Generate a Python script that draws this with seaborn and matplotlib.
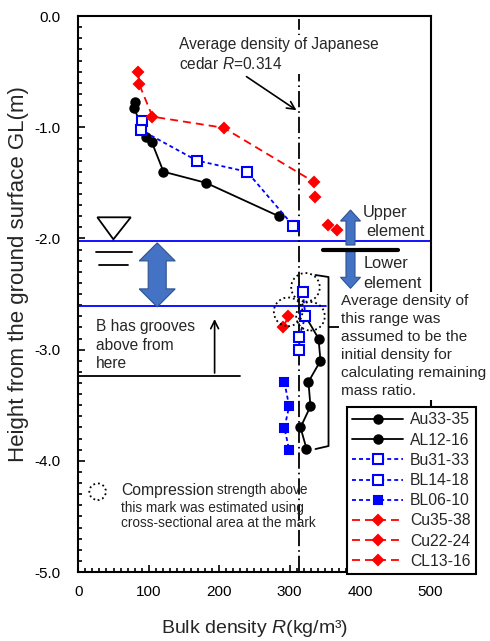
import numpy as np
import matplotlib
matplotlib.use("Agg")
import matplotlib.pyplot as plt
from matplotlib.lines import Line2D
from matplotlib.patches import Polygon, Ellipse
from matplotlib.ticker import MultipleLocator, FormatStrFormatter
import seaborn as sns

# Bulk density R (kg/m3) vs height from the ground surface GL (m)
au33_x = [80.7, 79.2, 96.3, 104.4, 120.9, 181.2, 284.5]
au33_y = [-0.77, -0.83, -1.085, -1.135, -1.40, -1.50, -1.80]
al12_x = [322.5, 341.0, 343.8, 326.7, 329.6, 315.4, 323.9]
al12_y = [-2.70, -2.90, -3.10, -3.29, -3.51, -3.70, -3.89]
bu31_x = [91.0, 88.8, 168.4, 239.5, 305.0]
bu31_y = [-0.94, -1.025, -1.30, -1.40, -1.885]
bl14_x = [318.6, 322.5, 313.5, 314.0]
bl14_y = [-2.485, -2.70, -2.885, -3.00]
bl06_x = [292.6, 299.3, 292.6, 299.3]
bl06_y = [-3.29, -3.51, -3.705, -3.90]
cu35_x = [85.3, 86.3, 105.3, 206.3, 335.3]
cu35_y = [-0.505, -0.61, -0.905, -1.005, -1.495]
cu22_x = [336.7, 354.2, 367.6]
cu22_y = [-1.63, -1.88, -1.92]
cl13_x = [297.9, 291.2]
cl13_y = [-2.70, -2.80]

cedar_R = 314          # average density of Japanese cedar
water_top = -2.023     # blue lines
water_bot = -2.605
groove_y = -3.235

BLACK, BLUE, RED = "black", "#0000FF", "#FF0000"
solid = "-"
bdash = (0, (2.2, 1.7))
rdash = (0, (4.4, 2.8))

series = [
    ("Au33-35", au33_x, au33_y, BLACK, solid, "o", 6, BLACK),
    ("AL12-16", al12_x, al12_y, BLACK, solid, "o", 6, BLACK),
    ("Bu31-33", bu31_x, bu31_y, BLUE, bdash, "s", 6.5, "white"),
    ("BL14-18", bl14_x, bl14_y, BLUE, bdash, "s", 6.5, "white"),
    ("BL06-10", bl06_x, bl06_y, BLUE, bdash, "s", 5.5, BLUE),
    ("Cu35-38", cu35_x, cu35_y, RED, rdash, "D", 5.5, RED),
    ("Cu22-24", cu22_x, cu22_y, RED, rdash, "D", 5.5, RED),
    ("CL13-16", cl13_x, cl13_y, RED, rdash, "D", 5.5, RED),
]
no_line = ["Cu22-24"]   # plotted without connecting line in the original

sns.set_style("ticks")
plt.rcParams["font.family"] = ["Liberation Sans", "DejaVu Sans"]
plt.rcParams["mathtext.fontset"] = "custom"
plt.rcParams["mathtext.rm"] = "Liberation Sans"
plt.rcParams["mathtext.it"] = "Liberation Sans:italic"
plt.rcParams["axes.unicode_minus"] = False

fig = plt.figure(figsize=(4.9, 6.41), dpi=100)
ax_left, ax_bottom, ax_w, ax_h = 0.1598, 0.1076, 0.7188, 0.8674
ax = fig.add_axes([ax_left, ax_bottom, ax_w, ax_h])
ax.set_xlim(0, 500)
ax.set_ylim(-5, 0)

# data units per pixel, for shapes sized in pixels
sx = 500 / (ax_w * 490)
sy = 5 / (ax_h * 641)

# reference lines
ax.axhline(water_top, color=BLUE, lw=1.3, zorder=1)
ax.plot([0, 351], [water_bot, water_bot], color=BLUE, lw=1.3, zorder=1)
ax.plot([cedar_R, cedar_R], [-5, -0.03], color=BLACK, lw=1.3,
        linestyle=(0, (9, 2.2, 0.9, 2.2)), zorder=1)

handles = []
for name, xs, ys, c, ls, m, ms, mfc in series:
    sns.lineplot(x=xs, y=ys, sort=False, estimator=None, ax=ax, color=c,
                 linestyle="" if name in no_line else ls, linewidth=1.3,
                 marker=m, markersize=ms, markerfacecolor=mfc,
                 markeredgecolor=c, markeredgewidth=1.5, zorder=3)
    handles.append(Line2D([], [], color=c, linestyle=ls, linewidth=1.3,
                          marker=m, markersize=ms, markerfacecolor=mfc,
                          markeredgecolor=c, markeredgewidth=1.5, label=name))


def block_arrow(xc, yc, half_len, head_len, head_w, shaft_w,
                double=False, up=True):
    L, hl, hw, sw = half_len, head_len, head_w, shaft_w
    if double:
        pts = [(0, L), (hw, L - hl), (sw, L - hl), (sw, -(L - hl)),
               (hw, -(L - hl)), (0, -L), (-hw, -(L - hl)), (-sw, -(L - hl)),
               (-sw, L - hl), (-hw, L - hl)]
    else:
        pts = [(0, L), (hw, L - hl), (sw, L - hl), (sw, -L), (-sw, -L),
               (-sw, L - hl), (-hw, L - hl)]
    sgn = 1 if up else -1
    verts = [(xc + dx * sx, yc + sgn * dy * sy) for dx, dy in pts]
    ax.add_patch(Polygon(verts, closed=True, facecolor="#4472C4",
                         edgecolor="#2F528F", lw=0.8, zorder=2,
                         clip_on=False))


white_box = dict(facecolor="white", edgecolor="none", pad=1.5)

# water level symbol
ax.add_patch(Polygon([(27.0, -1.81), (74.5, -1.81), (49.8, -2.008)],
                     closed=True, fill=False, edgecolor=BLACK, lw=1.3))
ax.plot([25.2, 76.0], [-2.122, -2.122], color=BLACK, lw=1.3)
ax.plot([29.9, 71.1], [-2.237, -2.237], color=BLACK, lw=1.3)
block_arrow(112, -2.328, 32, 18, 18, 9, double=True)

# upper / lower element
block_arrow(386.4, -1.902, 17.5, 11, 10, 4.5, up=True)
block_arrow(386.4, -2.284, 18.3, 11, 10, 4.5, up=False)
ax.plot([348, 453.5], [-2.104, -2.104], color=BLACK, lw=3, clip_on=False)
ax.text(403.1, -1.763, "Upper", fontsize=11.8, va="center")
ax.text(409.2, -1.94, "element", fontsize=11.8, va="center")
ax.text(404.5, -2.221, "Lower", fontsize=11.8, va="center")
ax.text(404.5, -2.401, "element", fontsize=11.8, va="center")

# cedar annotation
ax.text(143.5, -0.342, "Average density of Japanese\ncedar $\\mathit{R}$=0.314",
        fontsize=11.2, va="center", linespacing=1.3, bbox=white_box,
        zorder=2)
ax.annotate("", xy=(313, -0.861), xytext=(235.5, -0.531),
            arrowprops=dict(arrowstyle="->", color=BLACK, lw=1.2,
                            mutation_scale=14), zorder=3)

# grooves
ax.plot([0, 230], [groove_y, groove_y], color=BLACK, lw=1.3)
ax.annotate("", xy=(193.5, -2.70), xytext=(193.5, groove_y),
            arrowprops=dict(arrowstyle="->", color=BLACK, lw=1.2,
                            mutation_scale=14))
ax.text(25.2, -2.959, "B has grooves\nabove from\nhere", fontsize=11.2,
        va="center", linespacing=1.32)

# bracket for initial density range
ax.plot([336.7, 355.2, 355.2, 336.7], [-2.329, -2.347, -3.867, -3.894],
        color=BLACK, lw=1.3, clip_on=False)
ax.plot([355.2, 372.3], [-2.794, -2.794], color=BLACK, lw=1.3, clip_on=False)
ax.text(373.3, -2.968, "Average density of\nthis range was\nassumed to be the\n"
        "initial density for\ncalculating remaining\nmass ratio.",
        fontsize=11.1, va="center", linespacing=1.35, bbox=white_box,
        zorder=5)

# dotted circles
for cx, cy in [(322.5, -2.44), (297.9, -2.66), (329.6, -2.70)]:
    ax.add_patch(Ellipse((cx, cy), 28.6 * sx, 28.6 * sy, fill=False,
                         edgecolor=BLACK, lw=1.3, linestyle=":", zorder=4))
ax.add_patch(Ellipse((27.4, -4.278), 16.6 * sx, 16.6 * sy, fill=False,
                     edgecolor=BLACK, lw=1.3, linestyle=":"))
t1 = ax.text(60.8, -4.263, "Compression", fontsize=11.3, va="center")
ax.annotate("strength above", xy=(1, 0.22), xycoords=t1, xytext=(2, 0),
            textcoords="offset points", fontsize=9.8, va="baseline")
ax.text(60.8, -4.49, "this mark was estimated using\n"
        "cross-sectional area at the mark", fontsize=9.8, va="center",
        linespacing=1.1)

# axes styling
ax.set_xticks(np.arange(0, 501, 100))
ax.set_yticks(np.arange(-5, 0.01, 1))
ax.yaxis.set_major_formatter(FormatStrFormatter("%.1f"))
ax.xaxis.set_minor_locator(MultipleLocator(10))
ax.yaxis.set_minor_locator(MultipleLocator(0.1))
ax.tick_params(which="both", direction="in", top=False, right=False,
               width=1.2, labelsize=11, colors=BLACK)
ax.tick_params(which="major", length=5)
ax.tick_params(which="minor", length=3)
ax.tick_params(axis="x", which="major", pad=9)
ax.tick_params(axis="y", which="major", pad=13)
for sp in ax.spines.values():
    sp.set_linewidth(1.5)
    sp.set_color(BLACK)
ax.set_xlabel("Bulk density $\\mathit{R}$(kg/m³)", fontsize=14)
ax.xaxis.set_label_coords(0.5, -0.082)
ax.set_ylabel("Height from the ground surface GL(m)", fontsize=16)
ax.yaxis.set_label_coords(-0.14, 0.536)

leg = fig.legend(handles=handles, loc="upper left",
                 bbox_to_anchor=(347 / 490, 1 - 407 / 641), fontsize=11.3,
                 frameon=True, fancybox=False, edgecolor=BLACK, framealpha=1,
                 handlelength=3.2, handletextpad=0.45, labelspacing=0.33,
                 borderaxespad=0, borderpad=0.35)
leg.get_frame().set_linewidth(1.5)

fig.savefig("out.png", dpi=100)
